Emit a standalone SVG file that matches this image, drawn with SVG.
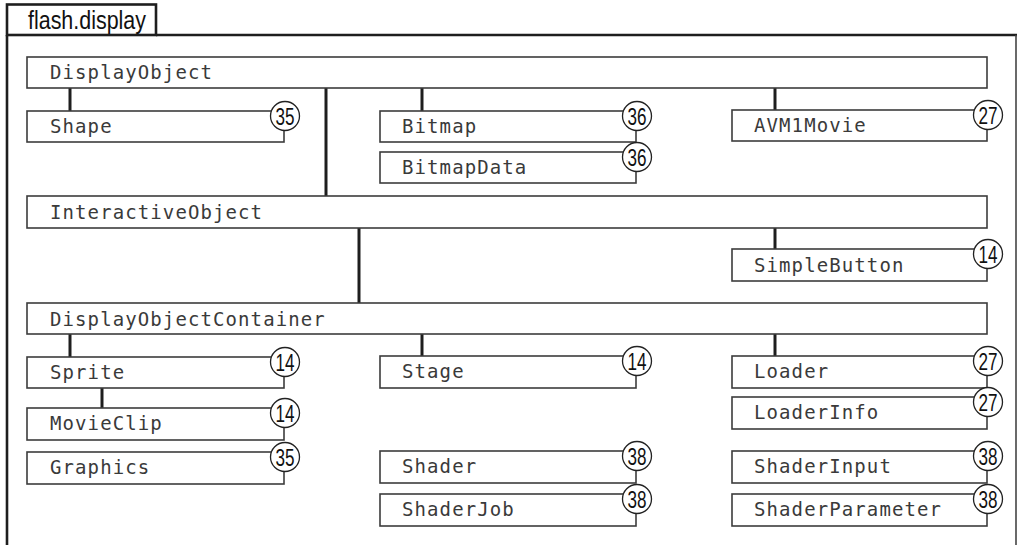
<svg xmlns="http://www.w3.org/2000/svg" width="1020" height="545" viewBox="0 0 1020 545">
<style>
.frame{fill:none;stroke:#1e1e1e;stroke-width:2.6}
.frame2{fill:none;stroke:#444;stroke-width:1.6}
.box{fill:#fff;stroke:#3c3c3c;stroke-width:1.6}
.lbl{font-family:"DejaVu Sans Mono",monospace;font-size:19px;letter-spacing:1.1px;fill:#3a3a3a}
.num{fill:#fff;stroke:#222;stroke-width:1.3}
.numt{font-family:"Liberation Sans",Arial,sans-serif;font-size:24px;fill:#111;text-anchor:middle}
.conn{stroke:#1e1e1e;stroke-width:3;fill:none}
.tab{font-family:"Liberation Sans",Arial,sans-serif;font-size:25px;fill:#111}
</style>
<rect width="1020" height="545" fill="#fff"/>
<g id="frame">
<rect class="frame" x="7" y="4.5" width="149" height="30.5"/>
<line class="frame" x1="156" y1="35" x2="1017" y2="35"/>
<line class="frame" x1="7" y1="35" x2="7" y2="545"/>
<line class="frame2" x1="1016" y1="35" x2="1016" y2="545"/>
<text class="tab" x="28" y="29" textLength="118" lengthAdjust="spacingAndGlyphs">flash.display</text>
</g>
<g id="connectors">
<line class="conn" x1="70" y1="88" x2="70" y2="111"/>
<line class="conn" x1="422" y1="88" x2="422" y2="111"/>
<line class="conn" x1="775" y1="88" x2="775" y2="110"/>
<line class="conn" x1="326" y1="88" x2="326" y2="196"/>
<line class="conn" x1="775" y1="228" x2="775" y2="249"/>
<line class="conn" x1="359" y1="228" x2="359" y2="303"/>
<line class="conn" x1="70" y1="334" x2="70" y2="357"/>
<line class="conn" x1="422" y1="334" x2="422" y2="356"/>
<line class="conn" x1="775" y1="334" x2="775" y2="356"/>
<line class="conn" x1="102" y1="388" x2="102" y2="408"/>
</g>
<g id="DisplayObject"><rect class="box" x="27" y="57" width="960" height="31"/><text class="lbl" x="50" y="79">DisplayObject</text></g>
<g id="Shape"><rect class="box" x="27" y="111" width="257" height="31"/><text class="lbl" x="50" y="133">Shape</text><circle class="num" cx="285" cy="116" r="14.5"/><text class="numt" x="285" y="124.5" textLength="19" lengthAdjust="spacingAndGlyphs">35</text></g>
<g id="Bitmap"><rect class="box" x="380" y="111" width="256" height="31"/><text class="lbl" x="402" y="133">Bitmap</text><circle class="num" cx="637" cy="116" r="14.5"/><text class="numt" x="637" y="124.5" textLength="19" lengthAdjust="spacingAndGlyphs">36</text></g>
<g id="BitmapData"><rect class="box" x="380" y="152" width="256" height="31"/><text class="lbl" x="402" y="174">BitmapData</text><circle class="num" cx="637" cy="157" r="14.5"/><text class="numt" x="637" y="165.5" textLength="19" lengthAdjust="spacingAndGlyphs">36</text></g>
<g id="AVM1Movie"><rect class="box" x="732" y="110" width="255" height="31"/><text class="lbl" x="754" y="132">AVM1Movie</text><circle class="num" cx="988" cy="115" r="14.5"/><text class="numt" x="988" y="123.5" textLength="19" lengthAdjust="spacingAndGlyphs">27</text></g>
<g id="InteractiveObject"><rect class="box" x="27" y="196" width="960" height="32"/><text class="lbl" x="50" y="219">InteractiveObject</text></g>
<g id="SimpleButton"><rect class="box" x="732" y="249" width="255" height="32"/><text class="lbl" x="754" y="272">SimpleButton</text><circle class="num" cx="988" cy="254" r="14.5"/><text class="numt" x="988" y="262.5" textLength="19" lengthAdjust="spacingAndGlyphs">14</text></g>
<g id="DisplayObjectContainer"><rect class="box" x="27" y="303" width="960" height="31"/><text class="lbl" x="50" y="326">DisplayObjectContainer</text></g>
<g id="Sprite"><rect class="box" x="27" y="357" width="257" height="31"/><text class="lbl" x="50" y="379">Sprite</text><circle class="num" cx="285" cy="362" r="14.5"/><text class="numt" x="285" y="370.5" textLength="19" lengthAdjust="spacingAndGlyphs">14</text></g>
<g id="Stage"><rect class="box" x="380" y="356" width="256" height="32"/><text class="lbl" x="402" y="378">Stage</text><circle class="num" cx="637" cy="361" r="14.5"/><text class="numt" x="637" y="369.5" textLength="19" lengthAdjust="spacingAndGlyphs">14</text></g>
<g id="Loader"><rect class="box" x="732" y="356" width="255" height="32"/><text class="lbl" x="754" y="378">Loader</text><circle class="num" cx="988" cy="361" r="14.5"/><text class="numt" x="988" y="369.5" textLength="19" lengthAdjust="spacingAndGlyphs">27</text></g>
<g id="MovieClip"><rect class="box" x="27" y="408" width="257" height="32"/><text class="lbl" x="50" y="430">MovieClip</text><circle class="num" cx="285" cy="413" r="14.5"/><text class="numt" x="285" y="421.5" textLength="19" lengthAdjust="spacingAndGlyphs">14</text></g>
<g id="LoaderInfo"><rect class="box" x="732" y="397" width="255" height="32"/><text class="lbl" x="754" y="419">LoaderInfo</text><circle class="num" cx="988" cy="402" r="14.5"/><text class="numt" x="988" y="410.5" textLength="19" lengthAdjust="spacingAndGlyphs">27</text></g>
<g id="Graphics"><rect class="box" x="27" y="452" width="257" height="32"/><text class="lbl" x="50" y="474">Graphics</text><circle class="num" cx="285" cy="457" r="14.5"/><text class="numt" x="285" y="465.5" textLength="19" lengthAdjust="spacingAndGlyphs">35</text></g>
<g id="Shader"><rect class="box" x="380" y="451" width="256" height="32"/><text class="lbl" x="402" y="473">Shader</text><circle class="num" cx="637" cy="456" r="14.5"/><text class="numt" x="637" y="464.5" textLength="19" lengthAdjust="spacingAndGlyphs">38</text></g>
<g id="ShaderInput"><rect class="box" x="732" y="451" width="255" height="32"/><text class="lbl" x="754" y="473">ShaderInput</text><circle class="num" cx="988" cy="456" r="14.5"/><text class="numt" x="988" y="464.5" textLength="19" lengthAdjust="spacingAndGlyphs">38</text></g>
<g id="ShaderJob"><rect class="box" x="380" y="494" width="256" height="32"/><text class="lbl" x="402" y="516">ShaderJob</text><circle class="num" cx="637" cy="499" r="14.5"/><text class="numt" x="637" y="507.5" textLength="19" lengthAdjust="spacingAndGlyphs">38</text></g>
<g id="ShaderParameter"><rect class="box" x="732" y="494" width="255" height="32"/><text class="lbl" x="754" y="516">ShaderParameter</text><circle class="num" cx="988" cy="499" r="14.5"/><text class="numt" x="988" y="507.5" textLength="19" lengthAdjust="spacingAndGlyphs">38</text></g>
</svg>
